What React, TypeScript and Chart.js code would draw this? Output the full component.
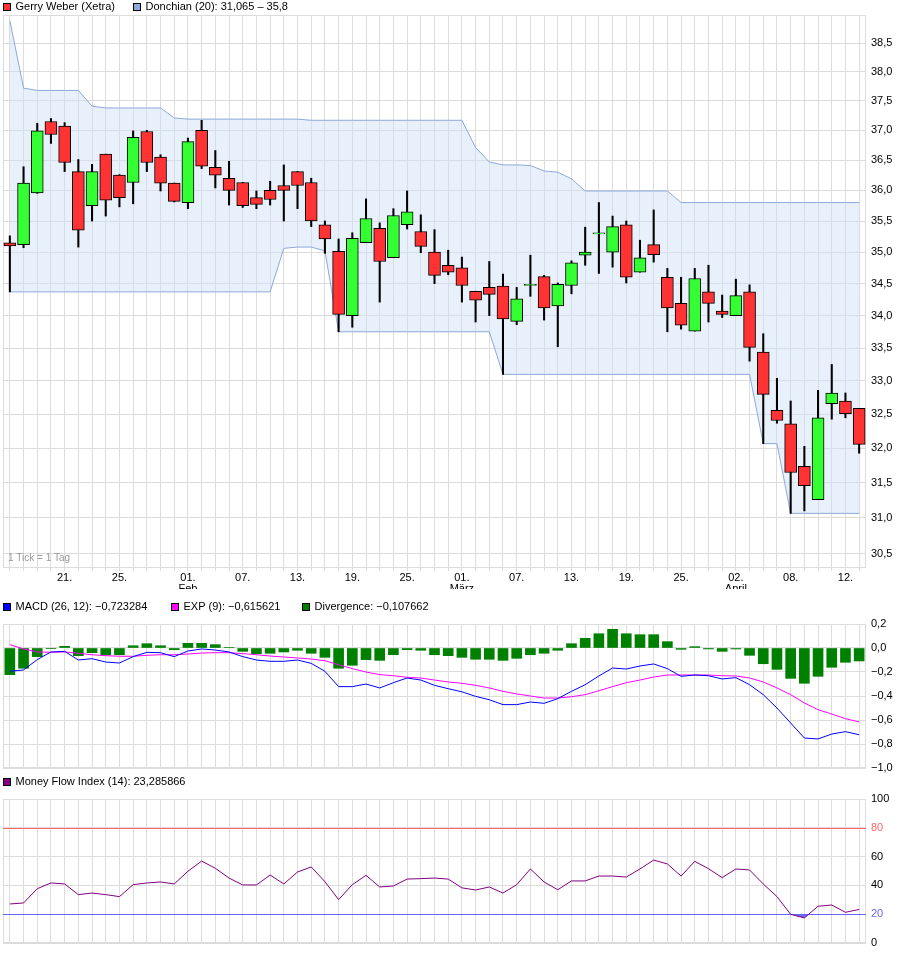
import React, { useEffect, useRef } from 'react';
import { Chart, registerables } from 'chart.js';

Chart.register(...registerables);

const FONT = '"Liberation Sans", Arial, Helvetica, sans-serif';
Chart.defaults.font.family = FONT;
Chart.defaults.font.size = 11;
Chart.defaults.color = '#000';

// ---------- categories (trading days 2013) ----------
const categories = [
  '15.01.', '16.01.', '17.01.', '18.01.', '21.01.', '22.01.', '23.01.', '24.01.', '25.01.', '28.01.', '29.01.', '30.01.', '31.01.',
  '01.02.', '04.02.', '05.02.', '06.02.', '07.02.', '08.02.', '11.02.', '12.02.', '13.02.', '14.02.', '15.02.', '18.02.', '19.02.', '20.02.', '21.02.', '22.02.', '25.02.', '26.02.', '27.02.', '28.02.',
  '01.03.', '04.03.', '05.03.', '06.03.', '07.03.', '08.03.', '11.03.', '12.03.', '13.03.', '14.03.', '15.03.', '18.03.', '19.03.', '20.03.', '21.03.', '22.03.', '25.03.', '26.03.', '27.03.', '28.03.',
  '02.04.', '03.04.', '04.04.', '05.04.', '08.04.', '09.04.', '10.04.', '11.04.', '12.04.', '15.04.',
];

// ---------- x tick labels ----------
const xTickDates = ['21.01.', '25.01.', '01.02.', '07.02.', '13.02.', '19.02.', '25.02.', '01.03.', '07.03.', '13.03.', '19.03.', '25.03.', '02.04.', '08.04.', '12.04.'];
const xTickLabels = [['21.'], ['25.'], ['01.', 'Feb'], ['07.'], ['13.'], ['19.'], ['25.'], ['01.', 'März'], ['07.'], ['13.'], ['19.'], ['25.'], ['02.', 'April'], ['08.'], ['12.']];

// ---------- price (OHLC) ----------
const open = [
  35.15, 35.12, 35.96, 37.15, 37.07, 36.31, 35.75, 36.60, 36.25, 36.13,
  36.98, 36.55, 36.12, 35.80, 37.00, 36.38, 36.20, 36.13, 35.88, 36.00,
  36.08, 36.31, 36.13, 35.44, 35.01, 34.00, 35.15, 35.38, 34.91, 35.44,
  35.33, 35.00, 34.79, 34.75, 34.38, 34.44, 34.46, 33.91, 34.47, 34.61,
  34.15, 34.47, 34.95, 35.29, 35.00, 35.44, 34.68, 35.12, 34.60, 34.19,
  33.76, 34.37, 34.07, 34.00, 34.37, 33.44, 32.56, 32.36, 31.74, 31.26,
  32.66, 32.70, 32.59,
];
const high = [
  35.26, 36.39, 37.12, 37.20, 37.13, 36.51, 36.43, 36.60, 36.26, 36.99,
  37.00, 36.59, 36.12, 36.87, 37.17, 36.66, 36.48, 36.13, 35.99, 36.15,
  36.42, 36.31, 36.20, 35.50, 35.21, 35.31, 35.86, 35.47, 35.70, 35.99,
  35.60, 35.36, 35.03, 34.92, 34.38, 34.85, 34.65, 34.44, 34.95, 34.63,
  34.51, 34.86, 35.40, 35.80, 35.58, 35.50, 35.19, 35.68, 34.74, 34.60,
  34.74, 34.79, 34.32, 34.57, 34.48, 33.72, 33.04, 32.70, 32.03, 32.86,
  33.25, 32.82, 32.59,
];
const low = [
  34.37, 35.07, 35.95, 36.78, 36.31, 35.08, 35.50, 35.58, 35.73, 35.78,
  36.31, 35.99, 35.81, 35.70, 36.36, 36.04, 35.76, 35.72, 35.70, 35.76,
  35.50, 35.70, 35.41, 34.98, 33.75, 33.82, 35.15, 34.21, 34.91, 35.37,
  34.99, 34.50, 34.64, 34.21, 33.90, 34.00, 33.10, 33.86, 34.30, 33.93,
  33.52, 34.34, 34.79, 34.66, 34.76, 34.51, 34.68, 34.84, 33.75, 33.79,
  33.76, 33.90, 33.97, 34.00, 33.30, 32.07, 32.37, 31.065, 31.10, 31.26,
  32.43, 32.45, 31.93,
];
const close = [
  35.10, 36.12, 36.99, 36.93, 36.46, 35.35, 36.31, 35.84, 35.88, 36.88,
  36.46, 36.12, 35.82, 36.81, 36.40, 36.25, 36.00, 35.75, 35.77, 35.85,
  36.00, 36.08, 35.50, 35.21, 34.02, 35.22, 35.54, 34.85, 35.59, 35.65,
  35.09, 34.63, 34.68, 34.47, 34.24, 34.33, 33.95, 34.26, 34.49, 34.12,
  34.49, 34.83, 35.00, 35.31, 35.41, 34.60, 34.91, 34.96, 34.12, 33.85,
  34.58, 34.19, 34.02, 34.31, 33.51, 32.80, 32.41, 31.65, 31.46, 32.45,
  32.82, 32.51, 32.06,
];

// ---------- Donchian (20) ----------
const donchianUpper = [
  38.90, 37.72, 37.68, 37.68, 37.68, 37.68, 37.41, 37.38, 37.38, 37.38,
  37.38, 37.38, 37.21, 37.19, 37.19, 37.19, 37.19, 37.19, 37.19, 37.19,
  37.19, 37.19, 37.17, 37.17, 37.17, 37.17, 37.17, 37.17, 37.17, 37.17,
  37.17, 37.17, 37.17, 37.17, 36.71, 36.47, 36.42, 36.42, 36.41, 36.32,
  36.30, 36.19, 35.99, 35.99, 35.99, 35.99, 35.99, 35.99, 35.99, 35.80,
  35.80, 35.80, 35.80, 35.80, 35.80, 35.80, 35.80, 35.80, 35.80, 35.80,
  35.80, 35.80, 35.80,
];
const donchianLower = [
  34.37, 34.37, 34.37, 34.37, 34.37, 34.37, 34.37, 34.37, 34.37, 34.37,
  34.37, 34.37, 34.37, 34.37, 34.37, 34.37, 34.37, 34.37, 34.37, 34.37,
  35.06, 35.08, 35.08, 35.02, 33.75, 33.75, 33.75, 33.75, 33.75, 33.75,
  33.75, 33.75, 33.75, 33.75, 33.75, 33.75, 33.10, 33.10, 33.10, 33.10,
  33.10, 33.10, 33.10, 33.10, 33.10, 33.10, 33.10, 33.10, 33.10, 33.10,
  33.10, 33.10, 33.10, 33.10, 33.10, 32.07, 32.07, 31.065, 31.065, 31.065,
  31.065, 31.065, 31.065,
];
const priceTicks = [30.5, 31.0, 31.5, 32.0, 32.5, 33.0, 33.5, 34.0, 34.5, 35.0, 35.5, 36.0, 36.5, 37.0, 37.5, 38.0, 38.5];

// ---------- MACD ----------
const macd = [
  -0.194, -0.183, -0.097, -0.033, -0.028, -0.100, -0.089, -0.117, -0.125, -0.072,
  -0.036, -0.039, -0.072, -0.025, -0.008, -0.017, -0.033, -0.072, -0.100, -0.111,
  -0.111, -0.100, -0.128, -0.194, -0.322, -0.322, -0.300, -0.333, -0.289, -0.250,
  -0.267, -0.311, -0.339, -0.365, -0.403, -0.431, -0.472, -0.472, -0.450, -0.461,
  -0.422, -0.361, -0.306, -0.233, -0.167, -0.175, -0.150, -0.133, -0.172, -0.236,
  -0.225, -0.231, -0.258, -0.247, -0.306, -0.389, -0.500, -0.625, -0.750, -0.758,
  -0.717, -0.697, -0.723,
];
const signal = [
  0.028, -0.008, -0.033, -0.036, -0.033, -0.044, -0.056, -0.064, -0.069, -0.069,
  -0.061, -0.056, -0.056, -0.050, -0.042, -0.039, -0.039, -0.047, -0.056, -0.067,
  -0.075, -0.083, -0.092, -0.106, -0.139, -0.172, -0.200, -0.222, -0.231, -0.244,
  -0.250, -0.267, -0.283, -0.294, -0.311, -0.333, -0.361, -0.383, -0.400, -0.417,
  -0.417, -0.406, -0.389, -0.356, -0.322, -0.289, -0.267, -0.242, -0.225, -0.225,
  -0.225, -0.225, -0.231, -0.233, -0.250, -0.283, -0.333, -0.389, -0.458, -0.514,
  -0.550, -0.589, -0.616,
];
const divergence = [
  -0.222, -0.169, -0.072, -0.003, 0.014, -0.064, -0.039, -0.056, -0.056, 0.019,
  0.036, 0.019, -0.014, 0.039, 0.039, 0.028, 0.005, -0.028, -0.047, -0.044,
  -0.033, -0.019, -0.044, -0.078, -0.169, -0.144, -0.097, -0.103, -0.056, -0.014,
  -0.019, -0.056, -0.064, -0.078, -0.094, -0.094, -0.103, -0.086, -0.056, -0.044,
  -0.019, 0.036, 0.081, 0.119, 0.156, 0.119, 0.111, 0.111, 0.053, -0.011,
  0.011, -0.008, -0.028, -0.008, -0.061, -0.131, -0.178, -0.253, -0.294, -0.236,
  -0.161, -0.119, -0.108,
];
const macdTicks = [-1.0, -0.8, -0.6, -0.4, -0.2, 0.0, 0.2];
const macdLast = -0.723284;
const signalLast = -0.615621;
const divergenceLast = -0.107662;

// ---------- Money Flow Index ----------
const mfi = [
  27.1, 27.8, 37.7, 41.7, 41.0, 33.6, 34.7, 33.6, 32.2, 40.5,
  41.7, 42.4, 41.0, 49.8, 56.9, 51.9, 45.1, 40.3, 40.3, 47.2,
  41.0, 49.3, 52.8, 42.6, 30.1, 40.5, 47.0, 38.9, 39.6, 44.4,
  44.7, 45.1, 44.4, 38.3, 36.8, 38.9, 34.7, 40.5, 51.4, 42.4,
  37.0, 43.1, 43.1, 46.5, 46.5, 45.8, 51.4, 57.6, 54.9, 46.5,
  56.7, 51.6, 45.4, 51.4, 50.7, 41.0, 32.2, 19.9, 17.4, 25.5,
  26.4, 21.3, 23.3,
];
const mfiTicks = [0, 20, 40, 60, 80, 100];
const mfiLast = 23.285866;
const MFI_UPPER = 80;
const MFI_LOWER = 20;

// ---------- styles ----------
const GRID = '#dcdcdc';
const UP = '#33ff33';
const DOWN = '#ff3333';
const CH_LINE = '#8ca8dc';
const CH_FILL = 'rgba(205,222,248,0.45)';
const MACD_C = '#0000ff';
const SIG_C = '#ff00ff';
const DIV_C = '#008000';
const MFI_C = '#800080';
const UPPER_C = '#ff6666';
const LOWER_C = '#6666ff';

const deComma = (v: number, d: number) => v.toFixed(d).replace('.', ',');
const signed = (v: number, d: number) => (v < -1e-9 ? '−' : '') + deComma(Math.abs(v), d);
const plain = (v: number) => String(v).replace('.', ',');

const xLabelFor = (i: number) => {
  const k = xTickDates.indexOf(categories[i]);
  return k >= 0 ? xTickLabels[k] : '';
};

const framePlugin = {
  id: 'frame',
  beforeDatasetsDraw(chart: any) {
    const { ctx, chartArea: a } = chart;
    ctx.save();
    ctx.strokeStyle = GRID;
    ctx.lineWidth = 1;
    const x0 = Math.round(a.left) + 0.5;
    const y0 = Math.round(a.top) + 0.5;
    const x1 = Math.round(a.right) - 0.5;
    const y1 = Math.round(a.bottom) - 0.5;
    ctx.strokeRect(x0, y0, x1 - x0, y1 - y0);
    ctx.restore();
  },
};

type LegendItem = { text: string; color: string; x: number };
const makeLegend = (id: string, items: LegendItem[], cy: number) => ({
  id,
  afterDraw(chart: any) {
    const { ctx } = chart;
    ctx.save();
    ctx.font = `11px ${FONT}`;
    ctx.textBaseline = 'middle';
    ctx.textAlign = 'left';
    items.forEach((it) => {
      ctx.fillStyle = it.color;
      ctx.fillRect(it.x, cy - 4, 8, 8);
      ctx.strokeStyle = '#000';
      ctx.lineWidth = 1;
      ctx.strokeRect(it.x + 0.5, cy - 3.5, 7, 7);
      ctx.fillStyle = '#000';
      ctx.fillText(it.text, it.x + 12.5, cy);
    });
    ctx.restore();
  },
});

const notePlugin = {
  id: 'note',
  afterDraw(chart: any) {
    const { ctx, chartArea: a } = chart;
    ctx.save();
    ctx.font = `10px ${FONT}`;
    ctx.fillStyle = '#999999';
    ctx.textBaseline = 'middle';
    ctx.textAlign = 'left';
    ctx.fillText('1 Tick = 1 Tag', a.left + 5, a.bottom - 10);
    ctx.restore();
  },
};

const refLinesPlugin = {
  id: 'refLines',
  beforeDatasetsDraw(chart: any) {
    const { ctx, chartArea: a, scales } = chart;
    ctx.save();
    ctx.lineWidth = 1;
    [
      { v: MFI_UPPER, c: UPPER_C },
      { v: MFI_LOWER, c: LOWER_C },
    ].forEach(({ v, c }) => {
      const py = Math.round(scales.y.getPixelForValue(v)) + 0.5;
      ctx.strokeStyle = c;
      ctx.beginPath();
      ctx.moveTo(a.left, py);
      ctx.lineTo(a.right, py);
      ctx.stroke();
    });
    ctx.restore();
  },
};

const baseOptions = {
  responsive: false,
  animation: false,
  events: [],
};

const yAxisCommon = {
  position: 'right',
  grid: { color: GRID, drawTicks: true, tickLength: 5, tickColor: 'rgba(0,0,0,0)' },
  border: { display: false },
  afterFit: (s: any) => {
    s.width = 46;
  },
};

function priceConfig(): any {
  return {
    type: 'bar',
    data: {
      labels: categories,
      datasets: [
        {
          type: 'bar',
          data: categories.map((_, i) => [open[i], close[i]]),
          backgroundColor: categories.map((_, i) => (close[i] >= open[i] ? UP : DOWN)),
          borderColor: '#000',
          borderWidth: 1,
          borderSkipped: false,
          barThickness: 12,
          grouped: false,
          order: 0,
        },
        {
          type: 'bar',
          data: categories.map((_, i) => [low[i], high[i]]),
          backgroundColor: '#000',
          borderWidth: 0,
          barThickness: 1.4,
          grouped: false,
          order: 1,
        },
        {
          type: 'line',
          data: donchianUpper,
          borderColor: CH_LINE,
          backgroundColor: CH_FILL,
          borderWidth: 1,
          pointRadius: 0,
          tension: 0,
          fill: '+1',
          order: 2,
        },
        {
          type: 'line',
          data: donchianLower,
          borderColor: CH_LINE,
          borderWidth: 1,
          pointRadius: 0,
          tension: 0,
          fill: false,
          order: 3,
        },
      ],
    },
    options: {
      ...baseOptions,
      layout: { padding: { left: 3, top: 15, right: 0, bottom: 0 } },
      plugins: {
        legend: { display: false },
        tooltip: { enabled: false },
        filler: { drawTime: 'beforeDatasetsDraw' },
      },
      scales: {
        x: {
          offset: true,
          grid: { color: GRID, offset: false, drawTicks: true, tickLength: 3, tickColor: GRID },
          border: { display: false },
          ticks: {
            autoSkip: false,
            maxRotation: 0,
            minRotation: 0,
            padding: 1,
            color: '#000',
            font: { size: 11, lineHeight: 1 },
            callback: (_v: any, i: number) => xLabelFor(i),
          },
          afterFit: (s: any) => {
            s.height = 21;
          },
        },
        y: {
          ...yAxisCommon,
          type: 'logarithmic',
          min: 30.3,
          max: 39.0,
          ticks: { padding: 0, color: '#000', font: { size: 11 }, callback: (v: any) => deComma(Number(v), 1) },
          afterBuildTicks: (s: any) => {
            s.ticks = priceTicks.map((v) => ({ value: v }));
          },
        },
      },
    },
    plugins: [
      framePlugin,
      notePlugin,
      makeLegend(
        'legendPrice',
        [
          { text: 'Gerry Weber (Xetra)', color: DOWN, x: 3 },
          {
            text: `Donchian (20): ${plain(donchianLower[donchianLower.length - 1])} – ${plain(donchianUpper[donchianUpper.length - 1])}`,
            color: CH_LINE,
            x: 133,
          },
        ],
        7
      ),
    ],
  };
}

function macdConfig(): any {
  return {
    type: 'bar',
    data: {
      labels: categories,
      datasets: [
        { type: 'line', data: macd, borderColor: MACD_C, borderWidth: 1, pointRadius: 0, tension: 0, fill: false, order: 0 },
        { type: 'line', data: signal, borderColor: SIG_C, borderWidth: 1, pointRadius: 0, tension: 0, fill: false, order: 1 },
        { type: 'bar', data: divergence, backgroundColor: DIV_C, borderWidth: 0, barThickness: 10, order: 2 },
      ],
    },
    options: {
      ...baseOptions,
      layout: { padding: { left: 3, top: 35, right: 0, bottom: 0 } },
      plugins: { legend: { display: false }, tooltip: { enabled: false } },
      scales: {
        x: {
          offset: true,
          grid: { color: GRID, offset: false, drawTicks: false },
          border: { display: false },
          ticks: { display: false },
          afterFit: (s: any) => {
            s.height = 8;
          },
        },
        y: {
          ...yAxisCommon,
          type: 'linear',
          min: -1,
          max: 0.2,
          ticks: { padding: 0, color: '#000', font: { size: 11 }, callback: (v: any) => signed(Number(v), 1) },
          afterBuildTicks: (s: any) => {
            s.ticks = macdTicks.map((v) => ({ value: v }));
          },
        },
      },
    },
    plugins: [
      framePlugin,
      makeLegend(
        'legendMacd',
        [
          { text: `MACD (26, 12): ${signed(macdLast, 6)}`, color: MACD_C, x: 3 },
          { text: `EXP (9): ${signed(signalLast, 6)}`, color: SIG_C, x: 171 },
          { text: `Divergence: ${signed(divergenceLast, 6)}`, color: DIV_C, x: 302 },
        ],
        18
      ),
    ],
  };
}

function mfiConfig(): any {
  return {
    type: 'line',
    data: {
      labels: categories,
      datasets: [
        {
          data: mfi,
          borderColor: MFI_C,
          borderWidth: 1,
          pointRadius: 0,
          tension: 0,
          fill: { target: { value: MFI_LOWER }, above: 'rgba(0,0,0,0)', below: '#6a6aff' },
        },
      ],
    },
    options: {
      ...baseOptions,
      layout: { padding: { left: 3, top: 23, right: 0, bottom: 0 } },
      plugins: { legend: { display: false }, tooltip: { enabled: false } },
      scales: {
        x: {
          offset: true,
          grid: { color: GRID, offset: false, drawTicks: false },
          border: { display: false },
          ticks: { display: false },
          afterFit: (s: any) => {
            s.height = 11;
          },
        },
        y: {
          ...yAxisCommon,
          type: 'linear',
          min: 0,
          max: 100,
          ticks: {
            padding: 0,
            font: { size: 11 },
            color: (c: any) => (c.tick && c.tick.value === MFI_UPPER ? UPPER_C : c.tick && c.tick.value === MFI_LOWER ? LOWER_C : '#000'),
            callback: (v: any) => String(v),
          },
          afterBuildTicks: (s: any) => {
            s.ticks = mfiTicks.map((v) => ({ value: v }));
          },
        },
      },
    },
    plugins: [
      framePlugin,
      refLinesPlugin,
      makeLegend('legendMfi', [{ text: `Money Flow Index (14): ${deComma(mfiLast, 6)}`, color: MFI_C, x: 3 }], 6),
    ],
  };
}

const H1 = 589;
const H2 = 187;
const H3 = 178;

export default function App() {
  const c1 = useRef<HTMLCanvasElement>(null);
  const c2 = useRef<HTMLCanvasElement>(null);
  const c3 = useRef<HTMLCanvasElement>(null);

  useEffect(() => {
    const charts: Chart[] = [];
    if (c1.current) charts.push(new Chart(c1.current, priceConfig()));
    if (c2.current) charts.push(new Chart(c2.current, macdConfig()));
    if (c3.current) charts.push(new Chart(c3.current, mfiConfig()));
    return () => charts.forEach((c) => c.destroy());
  }, []);

  return (
    <div style={{ position: 'absolute', left: 0, top: 0, width: 912, height: 954, background: '#fff', overflow: 'hidden' }}>
      <canvas ref={c1} width={912} height={H1} style={{ position: 'absolute', left: 0, top: 0, width: 912, height: H1 }} />
      <canvas ref={c2} width={912} height={H2} style={{ position: 'absolute', left: 0, top: H1, width: 912, height: H2 }} />
      <canvas ref={c3} width={912} height={H3} style={{ position: 'absolute', left: 0, top: H1 + H2, width: 912, height: H3 }} />
    </div>
  );
}
